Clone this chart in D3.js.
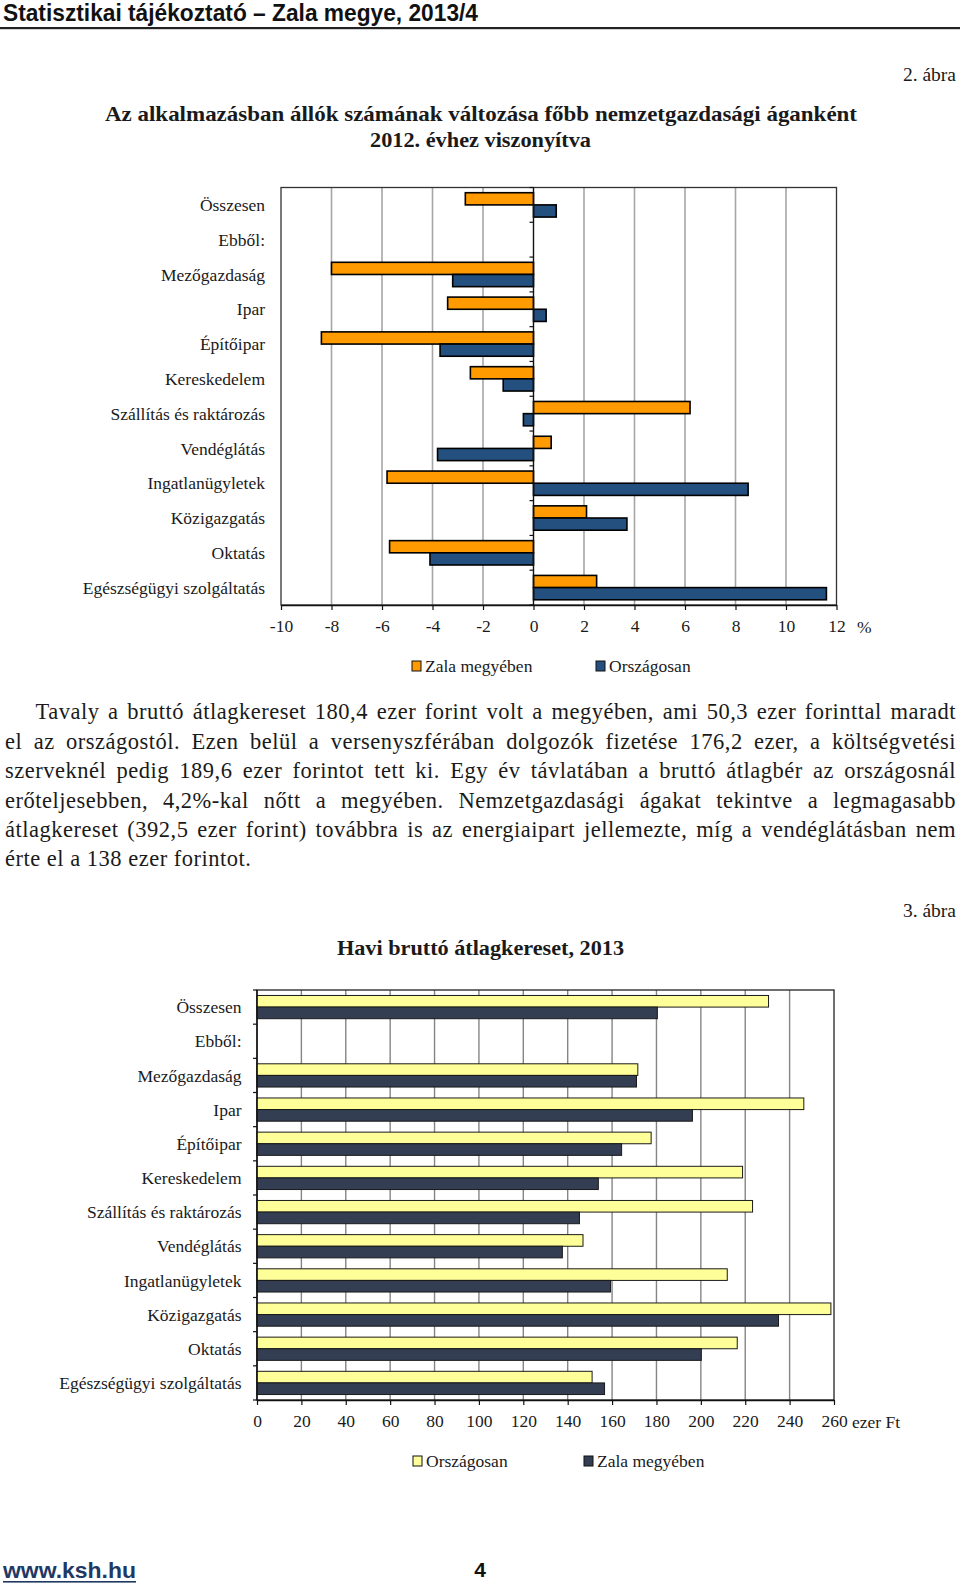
<!DOCTYPE html>
<html><head><meta charset="utf-8">
<script src="https://cdn.jsdelivr.net/npm/d3@7"></script>
<style>body{margin:0;background:#fff} svg{display:block}</style>
</head><body>
<svg id="page" width="960" height="1585"></svg>
<script>
// ---------- DATA ----------
const categories = ["Összesen","Ebből:","Mezőgazdaság","Ipar","Építőipar","Kereskedelem","Szállítás és raktározás","Vendéglátás","Ingatlanügyletek","Közigazgatás","Oktatás","Egészségügyi szolgáltatás"];
// Figure 2: change in number of employees vs 2012 (%)
const empZala     = [-2.7, null, -8.0, -3.4, -8.4, -2.5,  6.2,  0.7, -5.8, 2.1, -5.7,  2.5];
const empNational = [ 0.9, null, -3.2,  0.5, -3.7, -1.2, -0.4, -3.8,  8.5, 3.7, -4.1, 11.6];
const empTicks = [-10,-8,-6,-4,-2,0,2,4,6,8,10,12];
const empLegend = ["Zala megyében","Országosan"];
// Figure 3: monthly gross average earnings 2013 (thousand HUF)
const wageNational = [230.5, null, 171.6, 246.4, 177.6, 218.8, 223.3, 146.9, 211.9, 258.6, 216.4, 151.0];
const wageZala     = [180.4, null, 171.0, 196.2, 164.3, 153.8, 145.3, 137.6, 159.3, 235.0, 200.2, 156.6];
const wageTicks = [0,20,40,60,80,100,120,140,160,180,200,220,240,260];
const wageLegend = ["Országosan","Zala megyében"];
const paragraphLines = [
  "Tavaly a bruttó átlagkereset 180,4 ezer forint volt a megyében, ami 50,3 ezer forinttal maradt",
  "el az országostól. Ezen belül a versenyszférában dolgozók fizetése 176,2 ezer, a költségvetési",
  "szerveknél pedig 189,6 ezer forintot tett ki. Egy év távlatában a bruttó átlagbér az országosnál",
  "erőteljesebben, 4,2%-kal nőtt a megyében. Nemzetgazdasági ágakat tekintve a legmagasabb",
  "átlagkereset (392,5 ezer forint) továbbra is az energiaipart jellemezte, míg a vendéglátásban nem",
  "érte el a 138 ezer forintot."
];

// ---------- SETUP ----------
const svg = d3.select("#page");
const SERIF = "'Liberation Serif','Times New Roman',serif";
const NARROW = "'Liberation Sans Narrow','Liberation Sans',Arial,sans-serif";
const INK = "#1a1a1a";

function fitWidth(sel, w){ sel.attr("textLength", w).attr("lengthAdjust","spacingAndGlyphs"); }

// header
svg.append("text").attr("x",3).attr("y",21).attr("font-family",NARROW).attr("font-weight","bold")
  .attr("font-size",24).attr("fill","#111").attr("textLength",475).attr("lengthAdjust","spacingAndGlyphs")
  .text("Statisztikai tájékoztató – Zala megye, 2013/4");
svg.append("rect").attr("x",0).attr("y",27).attr("width",960).attr("height",2.2).attr("fill","#222");

// figure 2 titles
svg.append("text").attr("x",956).attr("y",81).attr("text-anchor","end").attr("font-family",SERIF)
  .attr("font-size",19.5).attr("fill",INK).text("2. ábra");
fitWidth(svg.append("text").attr("x",105).attr("y",121).attr("font-family",SERIF).attr("font-weight","bold")
  .attr("font-size",21).attr("fill",INK).text("Az alkalmazásban állók számának változása főbb nemzetgazdasági áganként"),752);
fitWidth(svg.append("text").attr("x",370).attr("y",147).attr("font-family",SERIF).attr("font-weight","bold")
  .attr("font-size",21).attr("fill",INK).text("2012. évhez viszonyítva"),221);

// ---------- generic horizontal grouped bar chart ----------
function drawChart(o){
  const g = svg.append("g");
  const x = d3.scaleLinear().domain(o.domain).range(o.xRange);
  const y = d3.scaleBand().domain(categories).range(o.yRange).paddingInner(o.pad).paddingOuter(o.pad/2);
  const sub = d3.scaleBand().domain(d3.range(o.series.length)).range([0,y.bandwidth()]);
  const [top,bottom] = o.yRange;
  // grid
  g.append("g").selectAll("line").data(o.ticks.filter(t=>t!==o.domain[0] && t!==o.domain[1] && t!==0))
    .join("line").attr("x1",d=>x(d)).attr("x2",d=>x(d)).attr("y1",top).attr("y2",bottom)
    .attr("stroke",o.gridColor).attr("stroke-width",o.gridWidth);
  // border
  g.append("rect").attr("x",x(o.domain[0])).attr("y",top).attr("width",x(o.domain[1])-x(o.domain[0]))
    .attr("height",bottom-top).attr("fill","none").attr("stroke",o.borderColor).attr("stroke-width",1.3);
  // bars
  o.series.forEach((vals,si)=>{
    g.append("g").selectAll("rect").data(categories.map((c,i)=>({c,v:vals[i]})).filter(d=>d.v!=null))
      .join("rect")
      .attr("x",d=>Math.min(x(0),x(d.v))).attr("width",d=>Math.abs(x(d.v)-x(0)))
      .attr("y",d=>y(d.c)+sub(si)).attr("height",sub.bandwidth())
      .attr("fill",o.colors[si]).attr("stroke",o.barStroke).attr("stroke-width",o.barStrokeWidth);
  });
  // category axis at zero
  const step = (bottom-top)/categories.length;
  g.append("line").attr("x1",x(0)).attr("x2",x(0)).attr("y1",top).attr("y2",bottom)
    .attr("stroke","#111").attr("stroke-width",1.4);
  g.append("g").selectAll("line").data(d3.range(categories.length+1)).join("line")
    .attr("x1",x(0)-4).attr("x2",x(0)).attr("y1",i=>top+i*step).attr("y2",i=>top+i*step)
    .attr("stroke","#111").attr("stroke-width",1.2);
  // category labels
  g.append("g").selectAll("text").data(categories).join("text")
    .attr("x",o.labelX).attr("y",d=>y(d)+y.bandwidth()/2).attr("dy","0.35em")
    .attr("text-anchor","end").attr("font-family",SERIF).attr("font-size",o.fontSize).attr("fill",INK)
    .text(d=>d);
  // value axis
  const ax = g.append("g").attr("transform",`translate(0,${bottom})`)
    .call(d3.axisBottom(x).tickValues(o.ticks).tickSize(5).tickSizeOuter(0).tickPadding(o.tickPad).tickFormat(d=>String(d)));
  ax.select(".domain").attr("stroke","#111").attr("stroke-width",1.4);
  ax.selectAll(".tick line").attr("stroke","#111").attr("stroke-width",1.2);
  ax.selectAll(".tick text").attr("font-family",SERIF).attr("font-size",o.fontSize).attr("fill",INK);
  // legend
  const lg = g.append("g");
  o.legend.forEach((name,i)=>{
    lg.append("rect").attr("x",o.legendX[i]).attr("y",o.legendY-5).attr("width",9).attr("height",10)
      .attr("fill",o.colors[o.legendIdx[i]]).attr("stroke","#111").attr("stroke-width",1);
    lg.append("text").attr("x",o.legendX[i]+13).attr("y",o.legendY).attr("dy","0.35em")
      .attr("font-family",SERIF).attr("font-size",o.fontSize).attr("fill",INK).text(name);
  });
  return {x,y};
}

drawChart({
  domain:[-10,12], xRange:[281,836.5], yRange:[187.5,605], pad:0.3,
  series:[empZala, empNational], colors:["#ff9a00","#24507f"],
  barStroke:"#000", barStrokeWidth:1.6,
  ticks:empTicks, gridColor:"#a6a6a6", gridWidth:1.6, borderColor:"#333",
  labelX:265, fontSize:17.5, tickPad:10,
  legend:empLegend, legendIdx:[0,1], legendX:[412,596], legendY:666
});
svg.append("text").attr("x",857).attr("y",627).attr("dy","0.35em").attr("font-family",SERIF)
  .attr("font-size",17.5).attr("fill",INK).text("%");

// paragraph (justified)
const para = svg.append("g").attr("font-family",SERIF).attr("font-size",22.5).attr("letter-spacing",0.5).attr("fill",INK);
const baselines = [719,748.5,778,807.5,837,866];
paragraphLines.forEach((line,i)=>{
  const x0 = i===0 ? 35.5 : 5;
  const t = para.append("text").attr("x",x0).attr("y",baselines[i]).attr("xml:space","preserve").text(line);
  if(i < paragraphLines.length-1){
    const nat = t.node().getComputedTextLength();
    const spaces = (line.match(/ /g)||[]).length;
    t.attr("word-spacing", ((956-x0)-nat)/spaces);
  }
});

// figure 3 titles
svg.append("text").attr("x",956).attr("y",917).attr("text-anchor","end").attr("font-family",SERIF)
  .attr("font-size",19.5).attr("fill",INK).text("3. ábra");
fitWidth(svg.append("text").attr("x",337).attr("y",955).attr("font-family",SERIF).attr("font-weight","bold")
  .attr("font-size",21).attr("fill",INK).text("Havi bruttó átlagkereset, 2013"),287);

drawChart({
  domain:[0,260], xRange:[257,834], yRange:[990,1400], pad:0.32,
  series:[wageNational, wageZala], colors:["#ffff99","#333e52"],
  barStroke:"#1a1a1a", barStrokeWidth:1,
  ticks:wageTicks, gridColor:"#858585", gridWidth:1.4, borderColor:"#222",
  labelX:241.5, fontSize:17.5, tickPad:10,
  legend:wageLegend, legendIdx:[0,1], legendX:[413,584], legendY:1461
});
svg.append("text").attr("x",852).attr("y",1422).attr("dy","0.35em").attr("font-family",SERIF)
  .attr("font-size",17.5).attr("fill",INK).text("ezer Ft");

// footer
svg.append("text").attr("x",3).attr("y",1578).attr("font-family",NARROW).attr("font-weight","bold")
  .attr("font-size",22).attr("fill","#1f3864").attr("textLength",133).attr("lengthAdjust","spacingAndGlyphs")
  .text("www.ksh.hu");
svg.append("rect").attr("x",3).attr("y",1581).attr("width",133).attr("height",1.6).attr("fill","#1f3864");
svg.append("text").attr("x",480).attr("y",1577).attr("text-anchor","middle").attr("font-family",NARROW)
  .attr("font-weight","bold").attr("font-size",21).attr("fill","#111").text("4");
</script>
</body></html>
